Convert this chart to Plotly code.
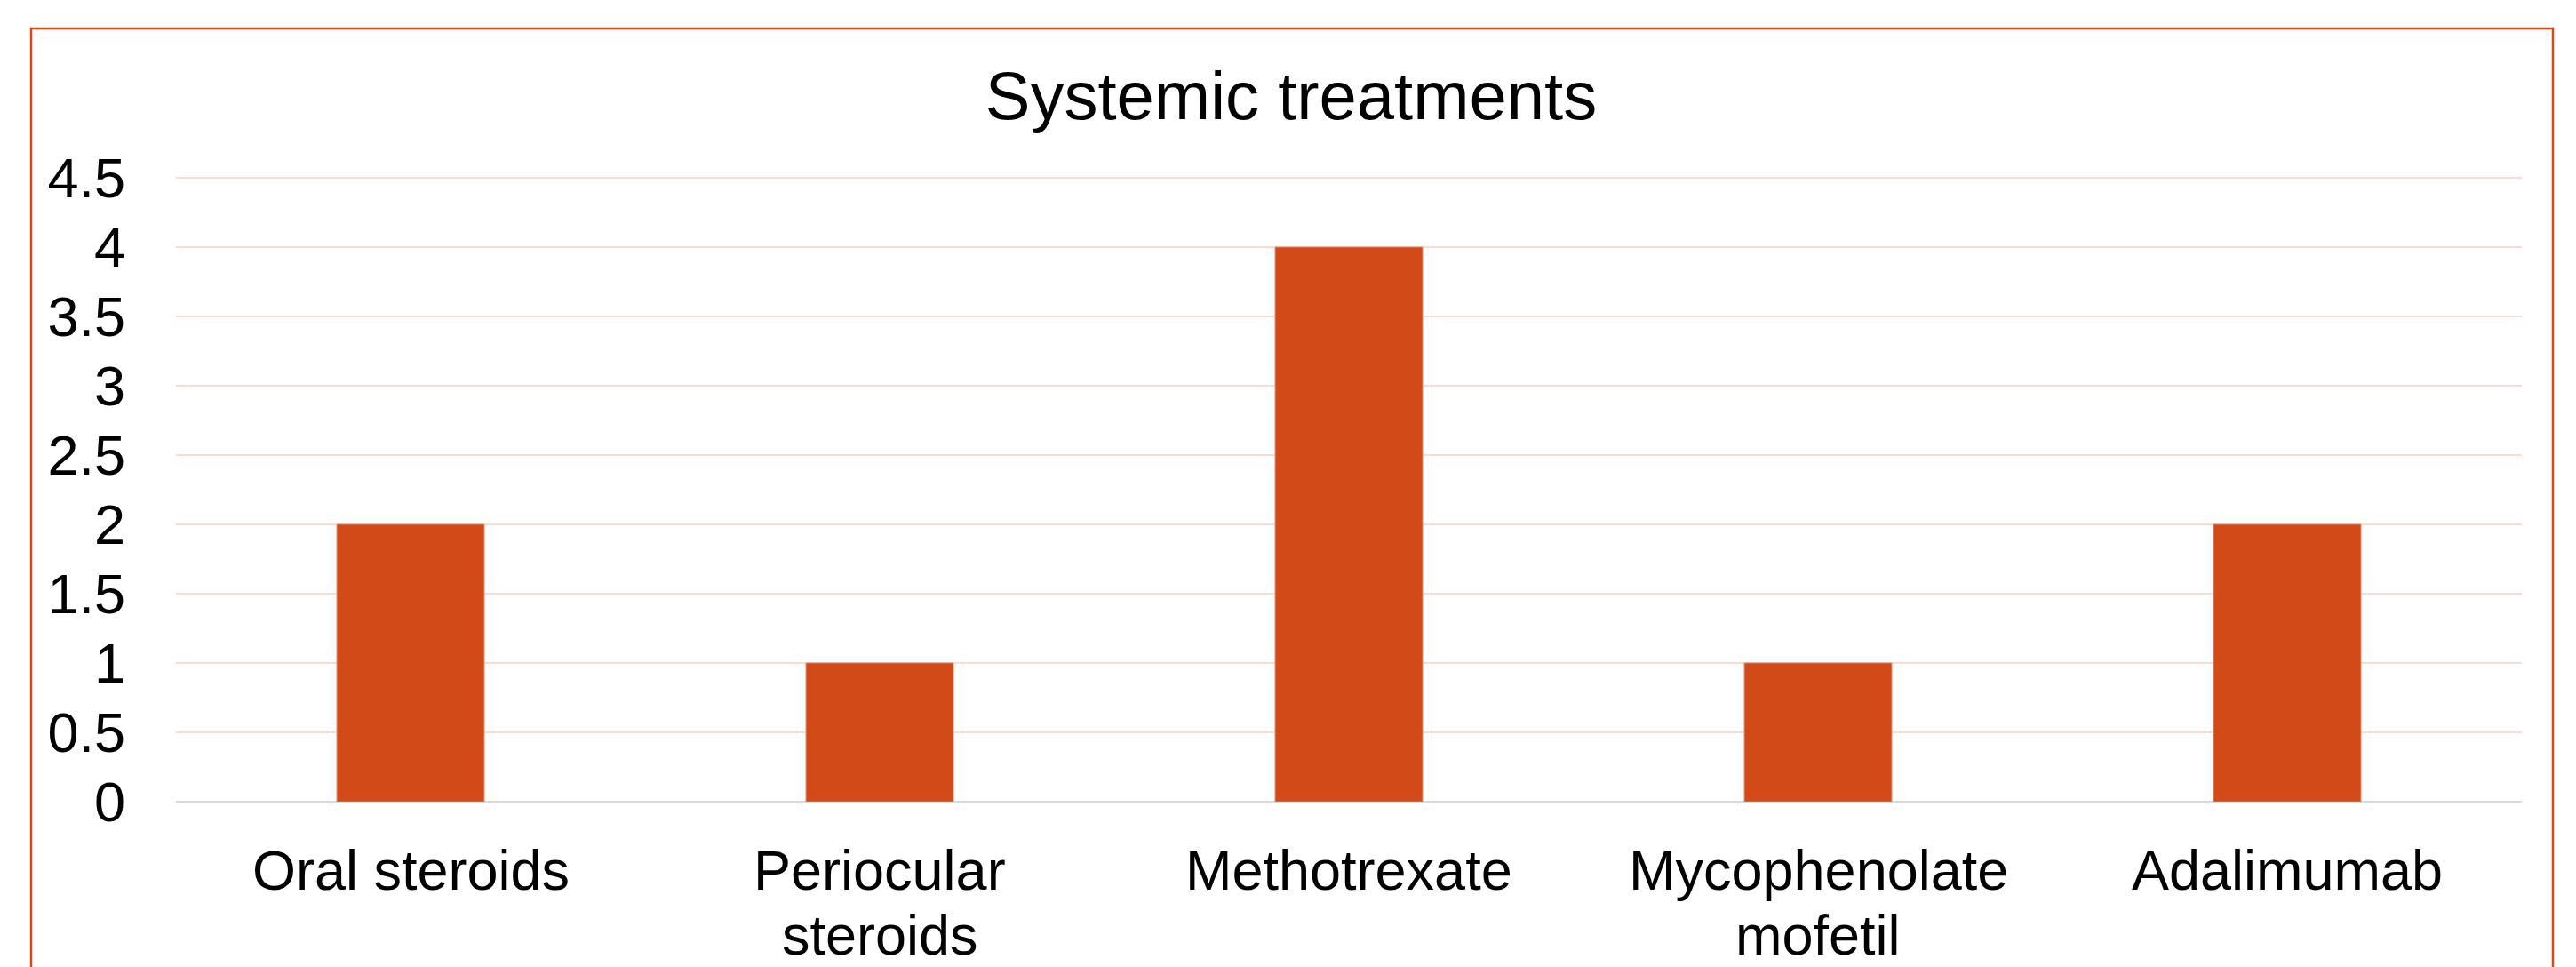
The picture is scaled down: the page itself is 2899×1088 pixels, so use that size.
import plotly.graph_objects as go

# Chart data
categories = ["Oral steroids", "Periocular<br>steroids", "Methotrexate",
              "Mycophenolate<br>mofetil", "Adalimumab"]
counts = [2, 1, 4, 1, 2]
y_ticks = [0, 0.5, 1, 1.5, 2, 2.5, 3, 3.5, 4, 4.5]
y_tick_labels = ["0", "0.5", "1", "1.5", "2", "2.5", "3", "3.5", "4", "4.5"]

W, H = 2899, 1088
ML, MR, MT, MB = 198, 61, 197, 186
ACCENT = "#D24A18"
FONT = "Liberation Sans, Arial, sans-serif"
LABEL_SIZE = 63
Y_RANGE_TOP = 4.52  # a little headroom so the 4.5 gridline is drawn

fig = go.Figure(
    go.Bar(
        x=categories,
        y=counts,
        marker=dict(color=ACCENT, line=dict(color="#E57A55", width=1)),
        width=0.314,
    )
)

plot_w = W - ML - MR
plot_h = H - MT - MB


def px_to_paper_x(px):
    return (px - ML) / plot_w


def px_to_paper_y(py):
    return (H - MB - py) / plot_h


# Outer frame around the chart: left, top and right edges (bottom runs off the page)
fx0, fx1 = px_to_paper_x(35), px_to_paper_x(2873)
fy0, fy1 = px_to_paper_y(1120), px_to_paper_y(32)
fig.add_shape(
    type="path",
    xref="paper", yref="paper",
    path=f"M {fx0},{fy0} L {fx0},{fy1} L {fx1},{fy1} L {fx1},{fy0}",
    line=dict(color=ACCENT, width=2.5),
    layer="below",
)

# Category labels, one text line at a time, below the axis
line_centres_px = [979, 1052]
for cat in categories:
    for i, part in enumerate(cat.split("<br>")):
        fig.add_annotation(
            x=cat, xref="x",
            y=px_to_paper_y(line_centres_px[i]), yref="paper",
            text=part,
            showarrow=False,
            xanchor="center", yanchor="middle",
            font=dict(family=FONT, size=LABEL_SIZE, color="black"),
        )

fig.update_layout(
    width=W,
    height=H,
    margin=dict(l=ML, r=MR, t=MT, b=MB),
    paper_bgcolor="white",
    plot_bgcolor="white",
    showlegend=False,
    font=dict(family=FONT, color="black"),
    title=dict(
        text="Systemic treatments",
        x=0.5012, xanchor="center",
        y=1 - 107 / H, yanchor="middle", yref="container",
        font=dict(family=FONT, size=76, color="black"),
    ),
    bargap=0.686,
    xaxis=dict(
        showgrid=False,
        showline=False,
        zeroline=False,
        showticklabels=False,
        ticks="",
        automargin=False,
        fixedrange=True,
    ),
    yaxis=dict(
        range=[0, Y_RANGE_TOP],
        tickvals=y_ticks,
        ticktext=y_tick_labels,
        tickfont=dict(family=FONT, size=LABEL_SIZE, color="black"),
        showgrid=True,
        gridcolor="#F9DDD3",
        gridwidth=2,
        zeroline=True,
        zerolinecolor="#D9D9D9",
        zerolinewidth=3,
        showline=False,
        ticks="",
        ticklabelstandoff=56,
        automargin=False,
        fixedrange=True,
    ),
)

fig.write_html("out.html")
